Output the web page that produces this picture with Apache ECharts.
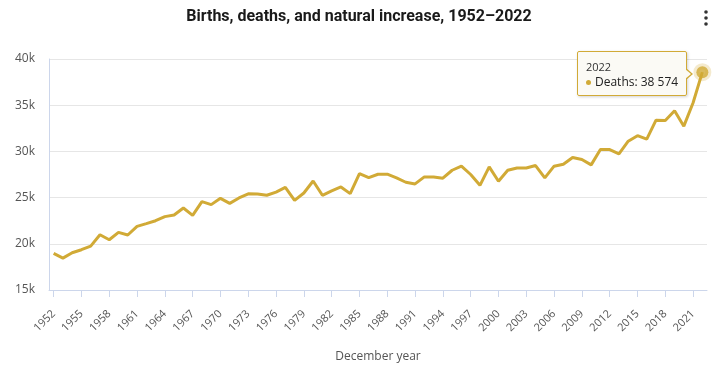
<!DOCTYPE html>
<html>
<head>
<meta charset="utf-8">
<script src="https://cdn.jsdelivr.net/npm/echarts@6/dist/echarts.min.js"></script>
<style>
html,body{margin:0;padding:0;background:#fff;}
#chart{width:718px;height:371px;}
</style>
</head>
<body>
<div id="chart"></div>
<script>
const years = [];
for (let y = 1952; y <= 2022; y++) years.push(String(y));

const deaths = [
  18960, 18450, 19030, 19360, 19750, 20980, 20440, 21240, 20950, 21890,
  22180, 22500, 22940, 23110, 23870, 23080, 24560, 24240, 24920, 24380,
  24960, 25410, 25400, 25250, 25600, 26100, 24700, 25500, 26800, 25250,
  25720, 26150, 25430, 27600, 27170, 27530, 27530, 27130, 26660, 26480,
  27240, 27240, 27100, 27960, 28400, 27500, 26330, 28320, 26770, 27960,
  28200, 28200, 28470, 27130, 28400, 28610, 29330, 29120, 28540, 30200,
  30200, 29730, 31100, 31700, 31320, 33380, 33350, 34400, 32730, 35260,
  38574
];

const yTicks = ['15k', '20k', '25k', '30k', '35k', '40k'];
const titleText = 'Births, deaths, and natural increase, 1952\u20132022';
const seriesName = 'Deaths';
const xName = 'December year';

const gold = '#d1aa36';
const axisCol = '#ccd6eb';
const last = deaths.length - 1;

const chart = echarts.init(document.getElementById('chart'), null, {renderer: 'canvas'});

function fmt(v) { return v.toString().replace(/\B(?=(\d{3})+(?!\d))/g, ' '); }

chart.setOption({
  animation: false,
  textStyle: {fontFamily: 'Open Sans, sans-serif'},
  title: {
    text: titleText,
    left: 'center',
    top: 4,
    textStyle: {fontSize: 16, fontWeight: 'bold', color: '#1a1a1a', fontFamily: 'Roboto, sans-serif'}
  },
  graphic: [
    {type: 'circle', shape: {cx: 706, cy: 12, r: 1.8}, style: {fill: '#333'}},
    {type: 'circle', shape: {cx: 706, cy: 18, r: 1.8}, style: {fill: '#333'}},
    {type: 'circle', shape: {cx: 706, cy: 24, r: 1.8}, style: {fill: '#333'}}
  ],
  grid: {left: 49, right: 11, top: 59, bottom: 81},
  tooltip: {
    trigger: 'item',
    transitionDuration: 0,
    showDelay: 0,
    hideDelay: 100000,
    alwaysShowContent: true,
    backgroundColor: 'rgba(251,250,245,0.97)',
    borderColor: gold,
    borderWidth: 1,
    borderRadius: 2,
    padding: [7, 8, 6, 8],
    extraCssText: 'box-shadow:1px 1px 3px rgba(0,0,0,0.18);',
    position: function (point, params, dom, rect, size) {
      return [point[0] - size.contentSize[0] - 15, point[1] - 21];
    },
    formatter: function (p) {
      const v = fmt(Array.isArray(p.value) ? p.value[1] : p.value);
      return '<div style="position:relative;font-family:Open Sans, sans-serif;line-height:15px;">' +
        '<div style="font-size:11px;color:#333;">' + years[last] + '</div>' +
        '<div style="font-size:12px;color:#222;"><span style="display:inline-block;width:5px;height:5px;border-radius:3px;background:' + gold + ';margin-right:4px;vertical-align:middle;"></span>' + p.seriesName + ': ' + v + '</div>' +
        '<span style="position:absolute;right:-15px;top:9px;width:0;height:0;border-top:6px solid transparent;border-bottom:6px solid transparent;border-left:7px solid ' + gold + ';"></span>' +
        '<span style="position:absolute;right:-13px;top:10px;width:0;height:0;border-top:5px solid transparent;border-bottom:5px solid transparent;border-left:6px solid rgb(251,250,245);"></span>' +
        '</div>';
    }
  },
  xAxis: {
    type: 'category',
    data: years,
    boundaryGap: true,
    name: xName,
    nameLocation: 'middle',
    nameGap: 61,
    nameTextStyle: {fontSize: 12, color: '#555'},
    axisLine: {show: true, lineStyle: {color: axisCol, width: 1}},
    axisTick: {show: true, alignWithLabel: true, interval: 2, length: 7, lineStyle: {color: axisCol}},
    axisLabel: {interval: 2, rotate: 45, fontSize: 11, color: '#555', margin: 22}
  },
  yAxis: {
    type: 'value',
    min: 15000,
    max: 40000,
    interval: 5000,
    axisLine: {show: true, lineStyle: {color: axisCol}},
    axisTick: {show: false},
    splitLine: {lineStyle: {color: '#e6e6e6'}},
    axisLabel: {
      fontSize: 12, color: '#555', margin: 14,
      formatter: function (v) { return yTicks[Math.round((v - 15000) / 5000)]; }
    }
  },
  series: [{
    name: seriesName,
    type: 'line',
    data: deaths,
    symbol: 'none',
    lineStyle: {color: gold, width: 3},
    itemStyle: {color: gold},
    emphasis: {disabled: true},
    tooltip: {show: false}
  }, {
    name: seriesName,
    type: 'scatter',
    data: [[last, deaths[last]]],
    symbol: 'circle',
    symbolSize: 12,
    itemStyle: {color: gold, borderColor: 'rgba(209,170,54,0.3)', borderWidth: 6},
    emphasis: {disabled: true},
    z: 5
  }]
});

function tip() {
  chart.dispatchAction({type: 'showTip', seriesIndex: 1, dataIndex: 0});
}
tip();
setTimeout(tip, 30);
setTimeout(tip, 200);
</script>
</body>
</html>
